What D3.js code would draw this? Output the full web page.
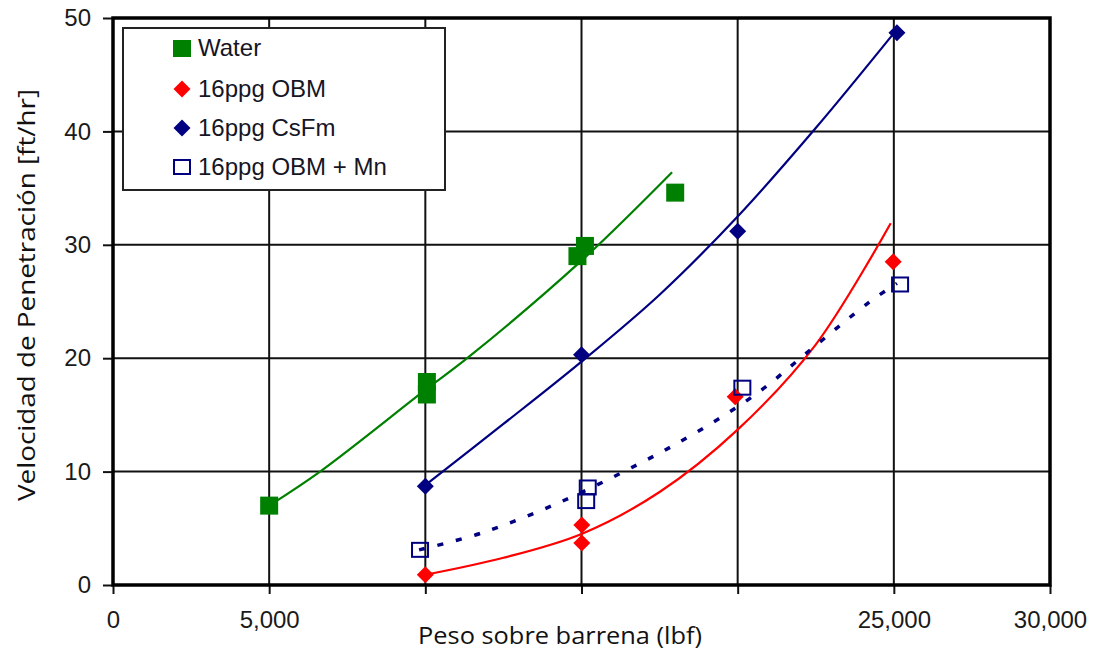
<!DOCTYPE html>
<html><head><meta charset="utf-8">
<script src="https://cdn.jsdelivr.net/npm/d3@7"></script>
<style>
html,body{margin:0;padding:0;background:#fff;}
svg{display:block;}
</style></head>
<body>
<svg id="chart" width="1097" height="653"></svg>
<script>
// ---- data ----
const xTicks = [0, 5000, 10000, 15000, 20000, 25000, 30000];
const xTickLabels = ["0", "5,000", "", "", "", "25,000", "30,000"];
const yTicks = [0, 10, 20, 30, 40, 50];
const yTickLabels = ["0", "10", "20", "30", "40", "50"];

const seriesNames = ["Water", "16ppg OBM", "16ppg CsFm", "16ppg OBM + Mn"];

const waterX = [5000, 10050, 10050, 14870, 15110, 18000];
const waterY = [7.0, 17.9, 16.8, 29.0, 29.9, 34.6];
const obmX = [10000, 15010, 15010, 19920, 24980];
const obmY = [0.9, 5.3, 3.7, 16.6, 28.5];
const csfmX = [10000, 15000, 20000, 25100];
const csfmY = [8.7, 20.3, 31.2, 48.7];
const mnX = [9830, 15150, 15200, 20150, 25200];
const mnY = [3.1, 7.4, 8.6, 17.4, 26.5];

// trend lines
const waterTrendX = [5000, 6630, 10000, 11340, 15000, 17900];
const waterTrendY = [7.0, 10.0, 17.2, 20.0, 28.6, 36.4];
const obmTrendX = [10000, 12500, 15000, 17500, 20000, 22500, 24900];
const obmTrendY = [0.9, 2.4, 4.5, 8.2, 13.7, 21.2, 31.9];
const csfmTrendX = [10000, 12500, 15000, 17500, 20000, 22500, 25040];
const csfmTrendY = [8.8, 14.2, 19.7, 25.6, 32.5, 40.3, 48.8];
const mnTrendX = [9800, 11820, 14310, 16780, 18700, 20620, 22400, 24240, 25100];
const mnTrendY = [3.1, 4.6, 7.3, 10.6, 13.5, 16.9, 20.9, 25.0, 26.6];

// ---- drawing ----
const svg = d3.select("#chart");
const L = 113, R = 1050, T = 18, B = 585;
const x = d3.scaleLinear().domain([0, 30000]).range([L, R]);
const y = d3.scaleLinear().domain([0, 50]).range([B, T]);
const zip = (a, b) => a.map((v, i) => [v, b[i]]);

const GREEN = "#008000", RED = "#ff0000", NAVY = "#000080";

// gridlines
const grid = svg.append("g");
grid.selectAll("line.v").data(xTicks.slice(1, -1)).join("line")
  .attr("x1", d => x(d)).attr("x2", d => x(d)).attr("y1", T).attr("y2", B)
  .attr("stroke", "#111").attr("stroke-width", 2);
grid.selectAll("line.h").data(yTicks.slice(1, -1)).join("line")
  .attr("x1", L).attr("x2", R).attr("y1", d => y(d)).attr("y2", d => y(d))
  .attr("stroke", "#111").attr("stroke-width", 2);

// axes
const xAxis = d3.axisBottom(x).tickValues(xTicks).tickSize(9).tickPadding(17)
  .tickFormat((d, i) => xTickLabels[i]);
const gx = svg.append("g").attr("transform", `translate(0,${B})`).call(xAxis);
gx.select(".domain").remove();
gx.selectAll(".tick line").attr("stroke", "#111").attr("stroke-width", 2);
gx.selectAll(".tick text").attr("font-family", "Arial, 'Liberation Sans', sans-serif")
  .attr("font-size", 24).attr("fill", "#1a1a1a");

const yAxis = d3.axisLeft(y).tickValues(yTicks).tickSize(10).tickPadding(12)
  .tickFormat((d, i) => yTickLabels[i]);
const gy = svg.append("g").attr("transform", `translate(${L},0)`).call(yAxis);
gy.select(".domain").remove();
gy.selectAll(".tick line").attr("stroke", "#111").attr("stroke-width", 2);
gy.selectAll(".tick text").attr("font-family", "Arial, 'Liberation Sans', sans-serif")
  .attr("font-size", 24).attr("fill", "#1a1a1a");

// plot border (thick)
svg.append("rect").attr("x", L).attr("y", T).attr("width", R - L).attr("height", B - T)
  .attr("fill", "none").attr("stroke", "#000").attr("stroke-width", 3.5);

// legend box
const leg = svg.append("g");
leg.append("rect").attr("x", 123).attr("y", 28).attr("width", 322).attr("height", 162)
  .attr("fill", "#fff").attr("stroke", "#222").attr("stroke-width", 2);

// trend lines
const line = d3.line().x(d => x(d[0])).y(d => y(d[1])).curve(d3.curveCatmullRom.alpha(0.5));
const trends = [
  {d: zip(waterTrendX, waterTrendY), c: GREEN, dash: null, w: 2.2},
  {d: zip(csfmTrendX, csfmTrendY), c: NAVY, dash: null, w: 2.2},
  {d: zip(obmTrendX, obmTrendY), c: RED, dash: null, w: 2.2},
  {d: zip(mnTrendX, mnTrendY), c: NAVY, dash: "6,13", w: 3.5}
];
svg.append("g").selectAll("path").data(trends).join("path")
  .attr("d", t => line(t.d)).attr("fill", "none")
  .attr("stroke", t => t.c).attr("stroke-width", t => t.w)
  .attr("stroke-dasharray", t => t.dash);

// markers
const sq = 18, dm = 17;
const marks = svg.append("g");
marks.selectAll("rect.water").data(zip(waterX, waterY)).join("rect")
  .attr("x", d => x(d[0]) - sq / 2).attr("y", d => y(d[1]) - sq / 2)
  .attr("width", sq).attr("height", sq).attr("fill", GREEN);
const diamond = (cx, cy, s) => `M${cx},${cy - s / 2}L${cx + s / 2},${cy}L${cx},${cy + s / 2}L${cx - s / 2},${cy}Z`;
marks.selectAll("path.obm").data(zip(obmX, obmY)).join("path")
  .attr("d", d => diamond(x(d[0]), y(d[1]), dm)).attr("fill", RED);
marks.selectAll("path.csfm").data(zip(csfmX, csfmY)).join("path")
  .attr("d", d => diamond(x(d[0]), y(d[1]), dm)).attr("fill", NAVY);
marks.selectAll("rect.mn").data(zip(mnX, mnY)).join("rect")
  .attr("x", d => x(d[0]) - 8).attr("y", d => y(d[1]) - 7)
  .attr("width", 16).attr("height", 14).attr("fill", "none")
  .attr("stroke", NAVY).attr("stroke-width", 2);

// legend items
const legY = [48, 89, 128, 167];
const mx = 182;
leg.append("rect").attr("x", mx - 9).attr("y", legY[0] - 8).attr("width", 18).attr("height", 17).attr("fill", GREEN);
leg.append("path").attr("d", diamond(mx, legY[1], 17)).attr("fill", RED);
leg.append("path").attr("d", diamond(mx, legY[2], 17)).attr("fill", NAVY);
leg.append("rect").attr("x", mx - 8).attr("y", legY[3] - 7).attr("width", 16).attr("height", 14)
  .attr("fill", "none").attr("stroke", NAVY).attr("stroke-width", 2);
leg.selectAll("text").data(seriesNames).join("text")
  .attr("x", 198).attr("y", (d, i) => legY[i] + 8)
  .attr("font-family", "Arial, 'Liberation Sans', sans-serif").attr("font-size", 24)
  .attr("fill", "#151525").text(d => d);

// axis titles
svg.append("text").attr("x", 560).attr("y", 644).attr("text-anchor", "middle")
  .attr("font-family", "'Open Sans', sans-serif").attr("font-size", 24)
  .attr("textLength", 284).attr("lengthAdjust", "spacingAndGlyphs")
  .attr("fill", "#111").text("Peso sobre barrena (lbf)");
svg.append("text").attr("transform", "translate(35,295) rotate(-90)").attr("text-anchor", "middle")
  .attr("font-family", "'Open Sans', sans-serif").attr("font-size", 24)
  .attr("textLength", 412).attr("lengthAdjust", "spacingAndGlyphs")
  .attr("fill", "#111").text("Velocidad de Penetración [ft/hr]");
</script>
</body></html>
